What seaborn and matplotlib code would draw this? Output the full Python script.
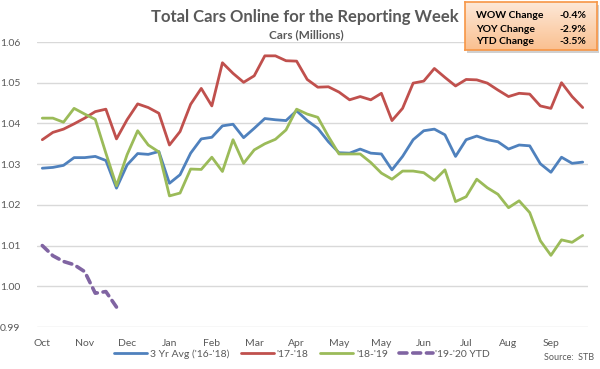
import numpy as np
import pandas as pd
import seaborn as sns
import matplotlib.pyplot as plt
from matplotlib.patches import FancyBboxPatch
from matplotlib.colors import LinearSegmentedColormap

# weekly values, millions of cars (52 reporting weeks, Oct -> Sep)
avg_16_18 = [1.0290, 1.0292, 1.0297, 1.0316, 1.0316, 1.0319, 1.0309, 1.0241, 1.0298, 1.0326,
             1.0324, 1.0331, 1.0253, 1.0274, 1.0327, 1.0362, 1.0366, 1.0394, 1.0398, 1.0365,
             1.0388, 1.0412, 1.0409, 1.0407, 1.0431, 1.0407, 1.0388, 1.0355, 1.0328, 1.0327,
             1.0337, 1.0327, 1.0325, 1.0286, 1.0319, 1.0360, 1.0382, 1.0386, 1.0372, 1.0319,
             1.0360, 1.0369, 1.0360, 1.0355, 1.0337, 1.0347, 1.0345, 1.0301, 1.0280, 1.0317,
             1.0302, 1.0305]
yr_17_18 = [1.0360, 1.0378, 1.0386, 1.0399, 1.0413, 1.0429, 1.0435, 1.0362, 1.0409, 1.0448,
            1.0439, 1.0425, 1.0347, 1.0380, 1.0447, 1.0486, 1.0443, 1.0549, 1.0523, 1.0501,
            1.0517, 1.0566, 1.0566, 1.0554, 1.0553, 1.0508, 1.0489, 1.0490, 1.0477, 1.0458,
            1.0466, 1.0458, 1.0474, 1.0407, 1.0437, 1.0499, 1.0504, 1.0535, 1.0513, 1.0492,
            1.0508, 1.0507, 1.0499, 1.0482, 1.0466, 1.0474, 1.0472, 1.0443, 1.0437, 1.0500,
            1.0466, 1.0439]
yr_18_19 = [1.0413, 1.0413, 1.0403, 1.0437, 1.0423, 1.0410, 1.0327, 1.0247, 1.0323, 1.0382,
            1.0347, 1.0330, 1.0222, 1.0229, 1.0288, 1.0287, 1.0317, 1.0282, 1.0360, 1.0302,
            1.0335, 1.0350, 1.0361, 1.0384, 1.0435, 1.0423, 1.0415, 1.0368, 1.0325, 1.0325,
            1.0325, 1.0304, 1.0278, 1.0263, 1.0283, 1.0283, 1.0279, 1.0260, 1.0286, 1.0208,
            1.0220, 1.0263, 1.0242, 1.0226, 1.0193, 1.0210, 1.0181, 1.0112, 1.0076, 1.0114,
            1.0108, 1.0125]
ytd_19_20 = [1.0100, 1.0075, 1.0061, 1.0053, 1.0036, 0.9983, 0.9987, 0.9949]

month_labels = ['Oct', 'Nov', 'Dec', 'Jan', 'Feb', 'Mar', 'Apr',
                'May', 'May', 'Jun', 'Jul', 'Aug', 'Sep']

summary_names = ['WOW Change', 'YOY Change', 'YTD Change']
summary_values = ['-0.4%', '-2.9%', '-3.5%']

series = {
    "3 Yr Avg ('16-'18)": avg_16_18,
    "'17-'18": yr_17_18,
    "'18-'19": yr_18_19,
    "'19-'20 YTD": ytd_19_20,
}
colors = ['#4F81BD', '#C0504D', '#9BBB59', '#8064A2']

frames = []
for name, vals in series.items():
    frames.append(pd.DataFrame({'week': np.arange(len(vals)), 'cars': vals, 'series': name}))
df = pd.concat(frames, ignore_index=True)

sns.set_style('white')
plt.rcParams['font.family'] = ['Lato', 'DejaVu Sans']
gray = '#595959'

fig = plt.figure(figsize=(6, 3.69), dpi=100)
ax = fig.add_axes([37 / 600, 1 - 327 / 369, 551 / 600, 285 / 369])

for (name, _), col in zip(series.items(), colors):
    sub = df[df['series'] == name]
    if name.endswith('YTD'):
        sns.lineplot(data=sub, x='week', y='cars', color=col, lw=2.6, ax=ax, label=name,
                     dashes=False, linestyle=(0, (2.2, 1.6)), solid_capstyle='round',
                     dash_capstyle='round')
    else:
        sns.lineplot(data=sub, x='week', y='cars', color=col, lw=2.0, ax=ax, label=name)

ax.set_xlim(-0.5, 51.5)
ax.set_ylim(0.99, 1.06)
ax.set_yticks(np.arange(0.99, 1.0601, 0.01))
ax.set_yticklabels([f'{v:.2f}' for v in np.arange(0.99, 1.0601, 0.01)])
ax.set_xticks(np.arange(0, 52, 4))
ax.set_xticklabels(month_labels)
ax.yaxis.grid(True, color='#D9D9D9', lw=1)
ax.tick_params(axis='both', length=0, labelsize=7.5, labelcolor=gray)
ax.tick_params(axis='y', pad=12)
ax.tick_params(axis='x', pad=9)
for s in ax.spines.values():
    s.set_visible(False)
ax.set_xlabel('')
ax.set_ylabel('')

leg = ax.legend(loc='center', bbox_to_anchor=(302 / 600, 1 - 354 / 369),
                bbox_transform=fig.transFigure, ncol=4, frameon=False, fontsize=7.5,
                handlelength=3.2, columnspacing=1.1, handletextpad=0.25)
for t in leg.get_texts():
    t.set_color(gray)

fig.text(305 / 600, 1 - 17 / 369, 'Total Cars Online for the Reporting Week',
         ha='center', va='center', fontsize=12, fontweight='bold', color=gray)
fig.text(306 / 600, 1 - 35 / 369, 'Cars (Millions)', ha='center', va='center',
         fontsize=8.5, fontweight='bold', color=gray)
fig.text(594 / 600, 1 - 357 / 369, 'Source:  STB', ha='right', va='center',
         fontsize=6.5, color=gray)

# summary box with orange gradient
bx0, by0, bw, bh = 465 / 600, 1 - 50 / 369, 132 / 600, 48 / 369
shadow = FancyBboxPatch((bx0 + 0.004, by0 - 0.008), bw, bh, boxstyle='square,pad=0',
                        transform=fig.transFigure, fc='#D0D0D0', ec='none', zorder=5)
fig.patches.append(shadow)
grad = np.linspace(0, 1, 64).reshape(-1, 1)
gax = fig.add_axes([bx0, by0, bw, bh], zorder=6)
cmap = LinearSegmentedColormap.from_list('org', ['#FDE9D9', '#FAC090'])
gax.imshow(grad, aspect='auto', cmap=cmap, extent=[0, 1, 0, 1], origin='upper')
gax.set_xlim(0, 1)
gax.set_ylim(0, 1)
gax.set_xticks([])
gax.set_yticks([])
for s in gax.spines.values():
    s.set_color('#F79646')
    s.set_linewidth(1.2)
for k, (nm, val) in enumerate(zip(summary_names, summary_values)):
    yy = 1 - (14 + 13 * k) / 48
    gax.text(11 / 132, yy, nm, ha='left', va='center', fontsize=7.5, fontweight='bold',
             color='black')
    gax.text(121 / 132, yy, val, ha='right', va='center', fontsize=7.5, fontweight='bold',
             color='black')

fig.savefig('out.png', dpi=100)
